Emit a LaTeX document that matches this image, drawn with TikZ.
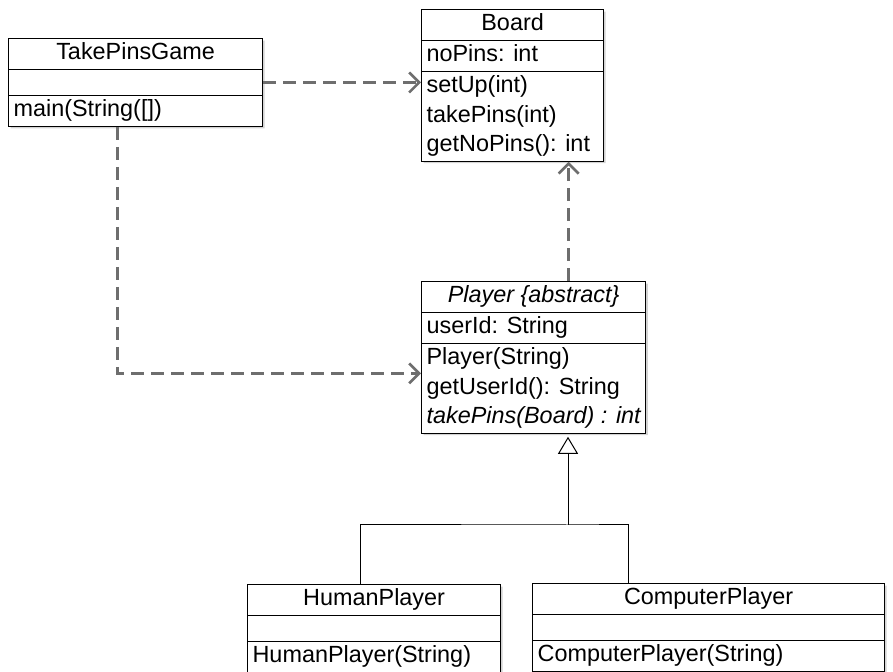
\documentclass[tikz,border=0pt]{standalone}
\usepackage{fontspec}
\setmainfont{Liberation Sans}
\usepackage{xcolor}
\definecolor{depgray}{RGB}{110, 110, 110}
\usepackage{tikz}
\usetikzlibrary{
    shapes.multipart,
    arrows.meta,
    shadows
}
\tikzstyle{umlclass} = [
    rectangle split,
    rectangle split parts=3,
    rectangle split part align={center,left,left},
    draw=black,
    line width=0.6pt,
    fill=white,
    drop shadow={shadow xshift=1pt, shadow yshift=-1pt, opacity=0.35},
    anchor=north west,
    align=left,
    inner xsep=2.5pt,
    inner ysep=0pt,
    font=\fontsize{11.7}{14.8}\selectfont
]
\tikzstyle{depend} = [
    draw=depgray,
    line width=1.3pt,
    dash pattern=on 6.5pt off 3.5pt,
    -{Straight Barb[length=5pt, width=10pt]}
]
\tikzstyle{inherit} = [
    draw=black,
    line width=0.5pt
]
\newcommand{\noattr}{\rule{0pt}{12.5pt}}

\begin{document}
\begin{tikzpicture}[x=0.5pt, y=-0.5pt]

\useasboundingbox (0,0) rectangle (893,672);

\node (game) [umlclass, minimum width=127pt] at (8,38)
    {\strut TakePinsGame
     \nodepart{two}\noattr
     \nodepart{three}\strut main(String([])};
\node (board) [umlclass, minimum width=91pt] at (421,9)
    {\strut Board
     \nodepart{two}\strut noPins: int
     \nodepart{three}\strut setUp(int)\\\strut takePins(int)\\\strut getNoPins(): int};
\node (player) [umlclass, minimum width=105pt] at (421,281)
    {\strut\itshape Player \{abstract\}
     \nodepart{two}\strut userId: String
     \nodepart{three}\strut Player(String)\\\strut getUserId(): String\\\strut\itshape takePins(Board) : int};
\node (human) [umlclass, minimum width=126.5pt] at (247,584)
    {\strut HumanPlayer
     \nodepart{two}\noattr
     \nodepart{three}\strut HumanPlayer(String)};
\node (computer) [umlclass, minimum width=176pt] at (532,583)
    {\strut ComputerPlayer
     \nodepart{two}\noattr
     \nodepart{three}\strut ComputerPlayer(String)};

% dependencies
\draw [depend] (game.east) -- (game.east -| board.west);
\draw [depend] ([xshift=-9pt]game.south) |- ([yshift=-8pt]player.west);
\draw [depend] ([xshift=17.5pt]player.north) -- ([xshift=17.5pt]player.north |- board.south);

% generalisation
\coordinate (fork) at (568,525);
\draw [inherit] ([xshift=-7pt]human.north) |- (fork) -| ([xshift=-40pt]computer.north);
\draw [inherit, -{Triangle[open, length=8.5pt, width=10pt]}] (fork) -- ([yshift=-1.5pt]fork |- player.south);

\end{tikzpicture}
\end{document}
